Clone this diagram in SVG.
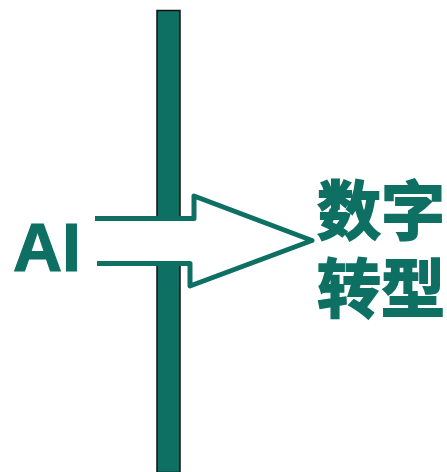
<svg xmlns="http://www.w3.org/2000/svg" width="447" height="472" viewBox="0 0 447 472">
<style>
.t{fill:#0e7063;stroke:#0e7063;font-weight:700}
.cjk{font-family:"Noto Sans CJK SC","Noto Sans",sans-serif;font-size:64px;stroke-width:1.800}
</style>
<rect width="447" height="472" fill="#fff"/>
<g id="bar"><rect x="157" y="10.500" width="23" height="462" fill="#0e7063" stroke="#111" stroke-width="1.500"/></g>
<g id="connectors"><path id="arrow" d="M95 218.500H194V196L312 240.500L190 286V263.500H97" fill="#fff" stroke="#0e7063" stroke-width="5" stroke-linejoin="round"/></g>
<g id="ai"><text class="t" x="13" y="271" font-family="'Liberation Sans',Arial,sans-serif" font-size="68" stroke-width="1.200">AI</text></g>
<g id="shuzi"><text class="t cjk" x="317" y="234">数字</text></g>
<g id="zhuanxing"><text class="t cjk" x="317" y="312">转型</text></g>
</svg>
